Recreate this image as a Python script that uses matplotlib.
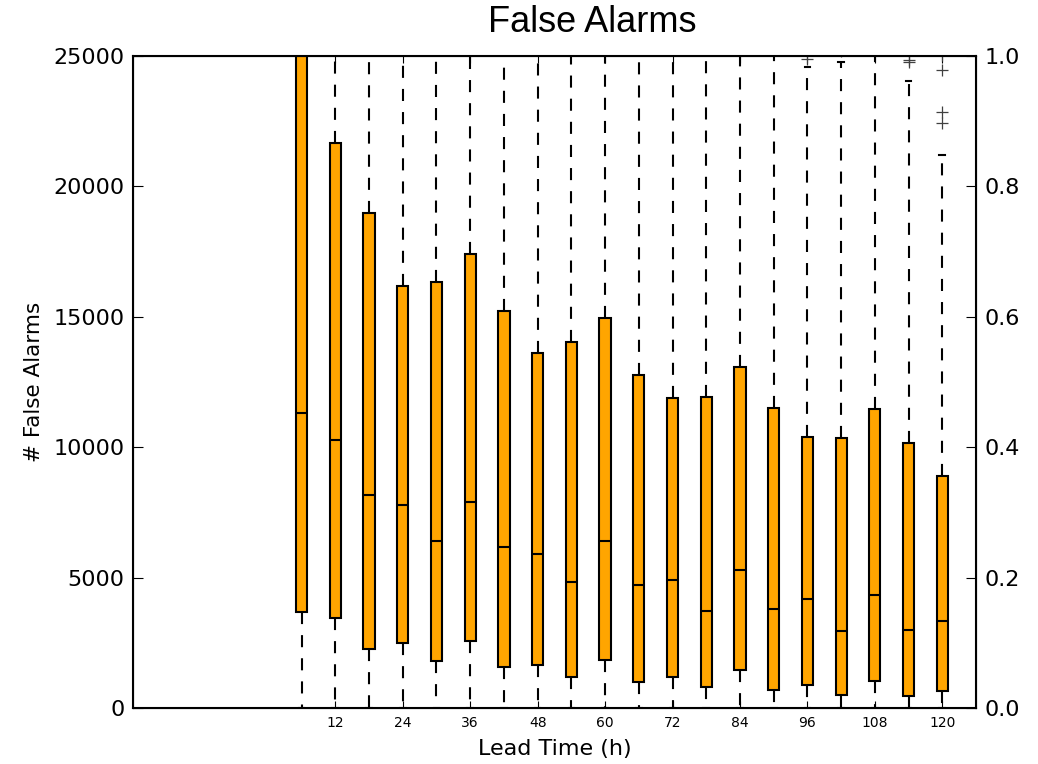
import numpy as np
import matplotlib
matplotlib.use("Agg")
import matplotlib.pyplot as plt

# lead times (h) and box statistics of false alarm counts
lead = [6, 12, 18, 24, 30, 36, 42, 48, 54, 60,
        66, 72, 78, 84, 90, 96, 102, 108, 114, 120]
q1 = [3670, 3440, 2275, 2480, 1800, 2560, 1560, 1660, 1180, 1840,
      985, 1190, 795, 1460, 680, 870, 510, 1050, 450, 665]
med = [11300, 10265, 8155, 7800, 6400, 7890, 6185, 5905, 4850, 6400,
       4715, 4895, 3730, 5280, 3800, 4170, 2950, 4335, 2980, 3335]
q3 = [27000, 21650, 18990, 16180, 16335, 17410, 15220, 13600, 14020, 14955,
      12770, 11885, 11925, 13075, 11505, 10390, 10355, 11465, 10160, 8895]
whis_lo = [0] * 20
whis_hi = [32000, 30000, 29000, 28500, 28000, 28500, 27500, 27000, 27000, 27500,
           26500, 26500, 26000, 26500, 26000, 24590, 24780, 26000, 24040, 21200]
fliers = [[], [], [], [], [], [], [], [], [], [],
          [], [], [], [], [], [24885, 25300], [25200], [], [24780, 24850],
          [22420, 22865, 24460, 25050]]

stats = []
for i in range(len(lead)):
    stats.append(dict(med=med[i], q1=q1[i], q3=q3[i],
                      whislo=whis_lo[i], whishi=whis_hi[i], fliers=fliers[i]))

fig = plt.figure(figsize=(10.38, 7.64), dpi=100)
ax = fig.add_subplot(111)
fig.subplots_adjust(left=0.1281, right=0.9403, top=0.9267, bottom=0.0733)

ax.bxp(stats, positions=lead, widths=2, patch_artist=True, manage_ticks=False,
       boxprops=dict(facecolor='orange', edgecolor='black', linewidth=1.5),
       medianprops=dict(color='black', linewidth=1.5),
       whiskerprops=dict(color='black', linewidth=1.5, linestyle=(0, (5.8, 5.3))),
       capprops=dict(color='black', linewidth=1.5),
       flierprops=dict(marker='+', markeredgecolor='0.25', markersize=9,
                       markeredgewidth=0.9, linestyle='none'))

ax.set_xlim(-24, 126)
ax.set_ylim(0, 25000)
ax.set_xticks(range(12, 121, 12))
ax.set_yticks(range(0, 25001, 5000))
ax.tick_params(axis='x', direction='in', labelsize=10, pad=6, length=5, top=True)
ax.tick_params(axis='y', direction='in', labelsize=16, pad=6, length=7, left=True, right=False)
for s in ax.spines.values():
    s.set_linewidth(1.5)
ax.set_xlabel("Lead Time (h)", fontsize=16, labelpad=6)
ax.set_ylabel("# False Alarms", fontsize=15.5, labelpad=7)

ax2 = ax.twinx()
ax2.set_ylim(0, 1)
ax2.set_yticks(np.arange(0, 1.01, 0.2))
ax2.tick_params(axis='y', direction='in', labelsize=16, pad=6, length=7)

fig.text(592 / 1038, 1 - 22 / 764, "False Alarms", ha='center', va='center',
         fontsize=26, family='Liberation Sans')

fig.savefig("out.png", dpi=100)
